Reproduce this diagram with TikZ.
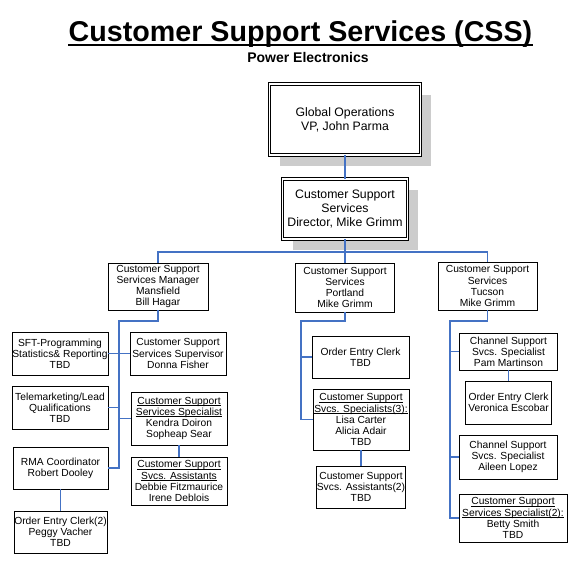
\documentclass[tikz,border=0pt]{standalone}
\usepackage{fontspec}
\setmainfont{Liberation Sans}
\usetikzlibrary{shadows}
\definecolor{linkblue}{RGB}{68,114,196}
\definecolor{shade}{RGB}{204,204,204}
\newcommand{\boxfont}{\fontsize{7.7}{8.3}\selectfont}
\newcommand{\headfont}{\fontsize{9.2}{10.5}\selectfont}
\newcommand{\ulin}[1]{\setbox0\hbox{#1}\rlap{\rule[-1pt]{\wd0}{0.5pt}}\box0}
\tikzset{
  box/.style={draw, line width=0.6pt, fill=white, align=center, inner sep=0pt, font=\boxfont},
  headbox/.style={box, double, double distance=1.1pt, font=\headfont,
    drop shadow={shadow xshift=7.5pt, shadow yshift=-8pt, opacity=1, fill=shade, draw=none}},
  sz/.style 2 args={minimum width=#1*0.75pt, minimum height=#2*0.75pt},
  link/.style={draw=linkblue, line width=0.8pt}
}
\begin{document}
\begin{tikzpicture}[x=0.75pt, y=-0.75pt]
  \useasboundingbox (0,0) rectangle (588,565);
  \node[font=\fontsize{21.5}{24}\selectfont\bfseries, inner sep=0pt, anchor=base] (title) at (300.5,41) {Customer Support Services (CSS)};
  \draw[line width=1.5pt] ([yshift=-3pt]title.base west) -- ([yshift=-3pt]title.base east);
  \node[font=\fontsize{10.5}{12}\selectfont\bfseries, inner sep=0pt, anchor=base] (sub) at (308,62) {Power Electronics};

  \node[headbox, sz={151}{71}] (gops) at (345,119.5) {Global Operations\\VP, John Parma};
  \node[headbox, sz={125}{60}] (dir) at (345,209) {Customer Support\\Services\\Director, Mike Grimm};

  \node[box, sz={100}{47}] (mgr) at (158,286.5) {Customer Support\\Services Manager\\Mansfield\\Bill Hagar};
  \node[box, sz={96}{43}] (sft) at (60,353.5) {SFT-Programming\\Statistics\& Reporting\\TBD};
  \node[box, sz={96}{43}] (sup) at (178,353.5) {Customer Support\\Services Supervisor\\Donna Fisher};
  \node[box, sz={96}{43}] (tele) at (60,407.5) {Telemarketing/Lead\\Qualifications\\TBD};
  \node[box, sz={96}{53}] (spec) at (179,418.5) {\ulin{Customer Support}\\\ulin{Services Specialist}\\Kendra Doiron\\Sopheap Sear};
  \node[box, sz={96}{48}] (asst) at (179,481) {\ulin{Customer Support}\\\ulin{Svcs. Assistants}\\Debbie Fitzmaurice\\Irene Deblois};
  \node[box, sz={95}{42}] (rma) at (60.5,468) {RMA Coordinator\\Robert Dooley};
  \node[box, sz={93}{42}] (oec2) at (60.5,532) {Order Entry Clerk(2)\\Peggy Vacher\\TBD};

  \node[box, sz={99}{49}] (pdx) at (345,287.5) {Customer Support\\Services\\Portland\\Mike Grimm};
  \node[box, sz={97}{42}] (oec) at (360.5,357) {Order Entry Clerk\\TBD};
  \node[box, sz={96}{61}] (spec3) at (361,419.5) {\ulin{Customer Support}\\\ulin{Svcs. Specialists(3):}\\Lisa Carter\\Alicia Adair\\TBD};
  \node[box, sz={85}{42}] (asst2) at (361,487) {Customer Support\\Svcs. Assistants(2)\\TBD};

  \node[box, sz={99}{48}] (tus) at (487.5,286) {Customer Support\\Services\\Tucson\\Mike Grimm};
  \node[box, sz={98}{37}] (pam) at (508.5,351.5) {Channel Support\\Svcs. Specialist\\Pam Martinson};
  \node[box, sz={86}{43}] (vero) at (508.5,402.5) {Order Entry Clerk\\Veronica Escobar};
  \node[box, sz={98}{44}] (aileen) at (508,457) {Channel Support\\Svcs. Specialist\\Aileen Lopez};
  \node[box, sz={108}{48}] (spec2) at (513,518) {\ulin{Customer Support}\\\ulin{Services Specialist(2):}\\Betty Smith\\TBD};

  \coordinate (bus) at (345,252);
  \coordinate (ltrunk) at (119,321);
  \coordinate (mtrunk) at (301,321);
  \coordinate (rtrunk) at (450,321);

  \draw[link] (gops) -- (dir);
  \draw[link] (dir) -- (pdx);
  \draw[link] (mgr.north) |- (bus) -| (tus.north);
  \draw[link] (mgr.south) |- (ltrunk) |- (rma.east);
  \draw[link] (sft) -- (sup);
  \draw[link] (tele.east) -- (tele.east -| ltrunk);
  \draw[link] (spec.west) -- (spec.west -| ltrunk);
  \draw[link] (spec) -- (asst);
  \draw[link] (rma) -- (oec2);
  \draw[link] (pdx.south) |- (mtrunk) |- (spec3.west);
  \draw[link] (oec.west) -- (oec.west -| mtrunk);
  \draw[link] (spec3) -- (asst2);
  \draw[link] (tus.south) |- (rtrunk) |- (spec2.west);
  \draw[link] (pam.west) -- (pam.west -| rtrunk);
  \draw[link] (aileen.west) -- (aileen.west -| rtrunk);
  \draw[link] (pam) -- (vero);
\end{tikzpicture}
\end{document}
